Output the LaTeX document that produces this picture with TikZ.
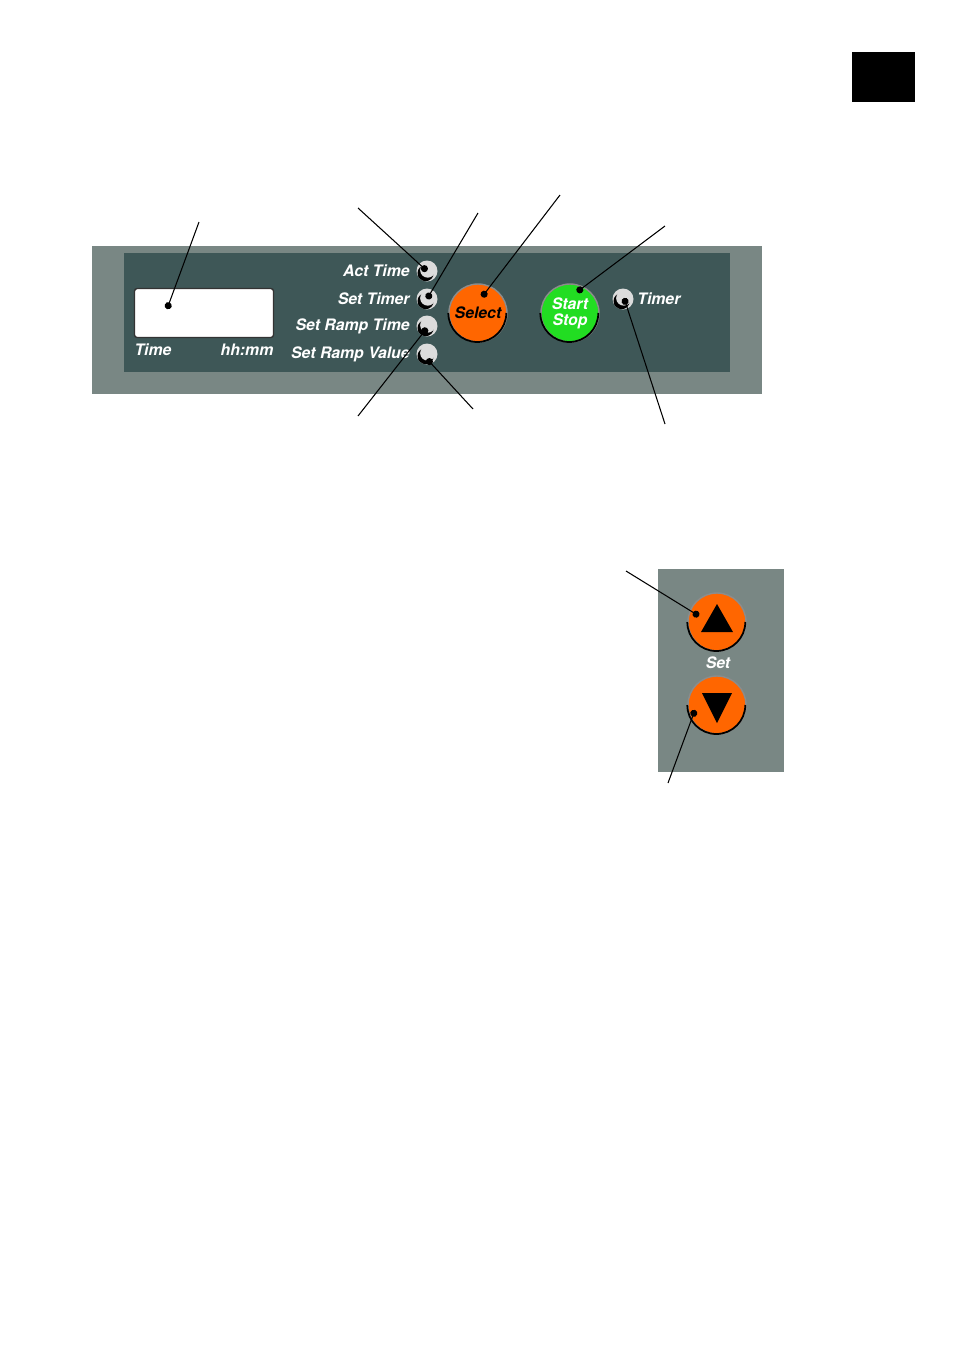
\documentclass[tikz,border=0pt]{standalone}
\usepackage{fontspec}
\setsansfont{TeX Gyre Heros}
\usetikzlibrary{arrows.meta}
\definecolor{panelout}{HTML}{798784}
\definecolor{panelin}{HTML}{3E5757}
\definecolor{knoborange}{HTML}{FF6600}
\definecolor{knobgreen}{HTML}{22DD22}
\definecolor{ledface}{HTML}{DCDCDC}

\begin{document}
\begin{tikzpicture}[
  x=0.02cm, y=-0.02cm,
  font=\sffamily\bfseries\itshape\fontsize{9}{10}\selectfont,
  led/.style={circle, fill=ledface, minimum size=0.42cm, inner sep=0pt,
    path picture={
      \fill[black] ([shift={(-0.8pt,-1.2pt)}]path picture bounding box.center) circle (4.6pt);
      \fill[ledface] ([shift={(0.4pt,0.5pt)}]path picture bounding box.center) circle (4.3pt);}},
  knob/.style={circle, minimum size=1.16cm, inner sep=0pt, draw=black!45, line width=0.8pt},
  rim/.style={draw=black, line width=1pt},
  lbl/.style={text=white, inner sep=0pt},
  every edge/.style={draw, line width=0.6pt, -{Circle[length=4pt]}}
]
\useasboundingbox (0,0) rectangle (955,1350);
\fill (852,52) rectangle (915,102);

% front panel
\fill[panelout] (92,246) rectangle (762,394);
\fill[panelin] (124,253) rectangle (730,372);
\node[draw=black!80, fill=white, rounded corners=1.5pt, line width=0.8pt,
  minimum width=2.78cm, minimum height=0.98cm] (disp) at (204,313) {};
\node[lbl] (time-lbl) at (153,350) {Time};
\node[lbl] (unit-lbl) at (247,350) {hh:mm};
\foreach \n/\y/\t in {act/271/Act Time, settim/299/Set Timer,
    rtime/326/Set Ramp Time, rval/354/Set Ramp Value} {
  \node[led] (\n) at (427,\y) {};
  \node[lbl, anchor=east] (\n-lbl) at (410,\y) {\t};
}
\node[knob, fill=knoborange] (sel) at (478,313) {Select};
\node[knob, fill=knobgreen, text=white, align=center,
  font=\sffamily\bfseries\itshape\fontsize{9}{9}\selectfont] (start) at (570,313) {Start\\Stop};
\node[led] (tmr) at (623,299) {};
\node[lbl, anchor=west] (tmr-lbl) at (637,299) {Timer};

% set keys
\fill[panelout] (658,569) rectangle (784,772);
\node[knob, fill=knoborange] (up) at (717,622) {};
\node[knob, fill=knoborange] (down) at (717,705) {};
\node[lbl] (set-lbl) at (718,663) {Set};
\fill ([shift={(0,-18)}]up.center) -- ([shift={(-16,10)}]up.center)
  -- ([shift={(16,10)}]up.center) -- cycle;
\fill ([shift={(0,18)}]down.center) -- ([shift={(-15,-12)}]down.center)
  -- ([shift={(15,-12)}]down.center) -- cycle;
\foreach \k in {sel,start,up,down}
  \draw[rim] (\k.west) arc[start angle=180, end angle=360, radius=0.58cm];

% leaders
\coordinate (p-disp) at (199,222);
\coordinate (p-act) at (358,208);
\coordinate (p-settim) at (478,213);
\coordinate (p-sel) at (560,195);
\coordinate (p-start) at (665,226);
\coordinate (p-rtime) at (358,416);
\coordinate (p-rval) at (473,409);
\coordinate (p-tmr) at (665,424);
\coordinate (p-up) at (626,571);
\coordinate (p-down) at (668,783);
\path
  (p-disp) edge ([shift={(-37,-4)}]disp.center)
  (p-act) edge (act.center)
  (p-settim) edge (settim.center)
  (p-sel) edge ([shift={(4,-16)}]sel.center)
  (p-start) edge ([shift={(7,-21)}]start.center)
  (p-rtime) edge ([shift={(0,2)}]rtime.center)
  (p-rval) edge ([shift={(0,5)}]rval.center)
  (p-tmr) edge ([shift={(1,-1)}]tmr.center)
  (p-up) edge ([shift={(-18,-6)}]up.center)
  (p-down) edge ([shift={(-22,5)}]down.center);
\end{tikzpicture}
\end{document}
